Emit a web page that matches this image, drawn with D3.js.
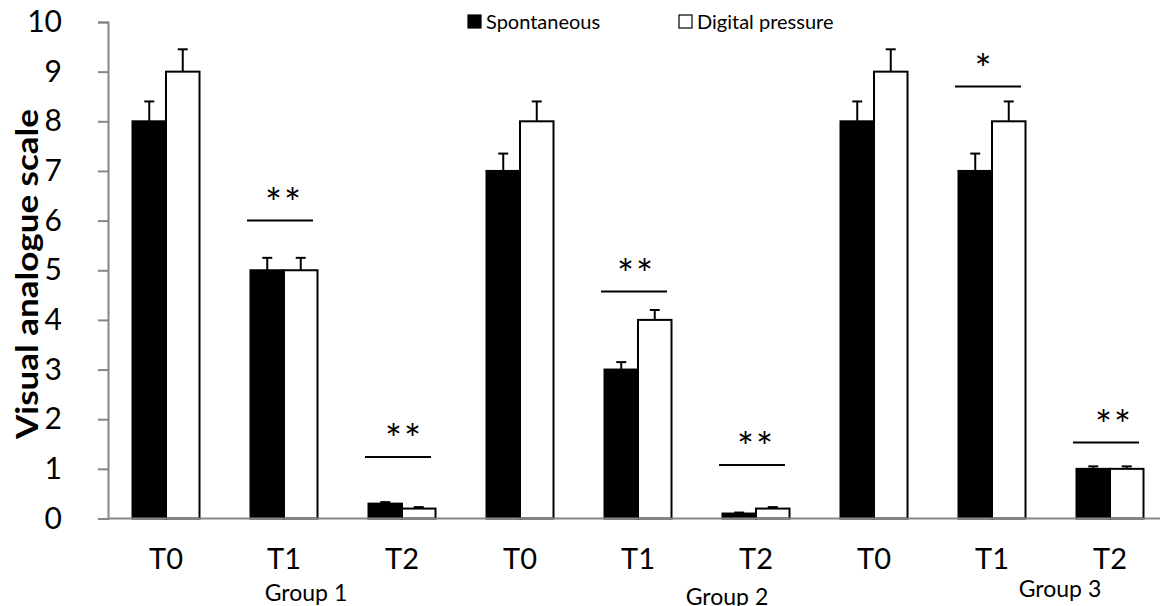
<!DOCTYPE html>
<html>
<head>
<meta charset="utf-8">
<script src="https://cdn.jsdelivr.net/npm/d3@7"></script>
<style>
  body { margin: 0; background: #fff; }
  text { font-family: Lato, "Open Sans", sans-serif; fill: #000; }
</style>
</head>
<body>
<div id="chart"></div>
<script>
// bar chart: VAS per group / time point

const categories = ["T0", "T1", "T2", "T0", "T1", "T2", "T0", "T1", "T2"];
const groupNames = ["Group 1", "Group 2", "Group 3"];
const seriesNames = ["Spontaneous", "Digital pressure"];
const spontaneous = [8, 5, 0.3, 7, 3, 0.1, 8, 7, 1];
const spontaneousErr = [0.4, 0.25, 0.03, 0.35, 0.15, 0.02, 0.4, 0.35, 0.05];
const digital = [9, 5, 0.2, 8, 4, 0.2, 9, 8, 1];
const digitalErr = [0.45, 0.25, 0.03, 0.4, 0.2, 0.03, 0.45, 0.4, 0.05];
const yTicks = [0, 1, 2, 3, 4, 5, 6, 7, 8, 9, 10];

// significance marks: category index, height of line, stars
const sigIndex = [1, 2, 4, 5, 7, 8];
const sigLevel = [6.0, 1.24, 4.57, 1.08, 8.7, 1.53];
const sigMark = ["**", "**", "**", "**", "*", "**"];

const width = 1160, height = 606;

const svg = d3.select("#chart")
    .append("svg")
    .attr("width", width)
    .attr("height", height);

const y = d3.scaleLinear().domain([0, 10]).range([518.5, 22]);

const x0 = d3.scaleBand()
    .domain(d3.range(categories.length))
    .range([107, 107 + 118 * categories.length])
    .padding(0);

const x1 = d3.scaleBand()
    .domain(seriesNames)
    .range([25.5, 92.5]);

const axisColor = "#868686";

// y axis
const yAxis = svg.append("g")
    .attr("transform", "translate(108,0)")
    .call(d3.axisLeft(y).tickValues(yTicks).tickSize(10).tickPadding(36).tickFormat(d3.format("d")));
yAxis.select(".domain").attr("stroke", axisColor).attr("stroke-width", 2);
yAxis.selectAll(".tick line").attr("stroke", axisColor).attr("stroke-width", 2);
yAxis.selectAll(".tick text")
    .attr("font-size", "30px")
    .attr("font-family", "Lato, sans-serif")
    .attr("fill", "#000");

// y title
svg.append("text")
    .attr("transform", "translate(38,274) rotate(-90)")
    .attr("text-anchor", "middle")
    .attr("font-size", "30px")
    .attr("font-weight", "bold")
    .attr("textLength", 330)
    .attr("lengthAdjust", "spacingAndGlyphs")
    .text("Visual analogue scale");

// bars
const rows = categories.map((c, i) => ({
    i: i,
    values: [
        { s: seriesNames[0], v: spontaneous[i], e: spontaneousErr[i] },
        { s: seriesNames[1], v: digital[i], e: digitalErr[i] }
    ]
}));

const cat = svg.append("g")
    .selectAll("g")
    .data(rows)
    .enter().append("g")
    .attr("transform", d => `translate(${x0(d.i)},0)`);

// error bars (drawn first so the bar edge covers the stem base)
const err = cat.selectAll(".err")
    .data(d => d.values)
    .enter().append("g")
    .attr("class", "err");

err.append("line")
    .attr("x1", d => x1(d.s) + x1.bandwidth() / 2)
    .attr("x2", d => x1(d.s) + x1.bandwidth() / 2)
    .attr("y1", d => y(d.v))
    .attr("y2", d => y(d.v + d.e))
    .attr("stroke", "#000")
    .attr("stroke-width", 2);

err.append("line")
    .attr("x1", d => x1(d.s) + x1.bandwidth() / 2 - 5)
    .attr("x2", d => x1(d.s) + x1.bandwidth() / 2 + 5)
    .attr("y1", d => y(d.v + d.e))
    .attr("y2", d => y(d.v + d.e))
    .attr("stroke", "#000")
    .attr("stroke-width", 2);

cat.selectAll("rect")
    .data(d => d.values)
    .enter().append("rect")
    .attr("x", d => x1(d.s))
    .attr("y", d => y(d.v))
    .attr("width", x1.bandwidth())
    .attr("height", d => y(0) - y(d.v))
    .attr("fill", d => d.s === seriesNames[0] ? "#000" : "#fff")
    .attr("stroke", "#000")
    .attr("stroke-width", 2);

// x axis line
svg.append("line")
    .attr("x1", 108)
    .attr("x2", width)
    .attr("y1", y(0))
    .attr("y2", y(0))
    .attr("stroke", axisColor)
    .attr("stroke-width", 2);

// category labels
svg.append("g")
    .selectAll("text")
    .data(categories)
    .enter().append("text")
    .attr("x", (d, i) => x0(i) + x0.bandwidth() / 2)
    .attr("y", 569)
    .attr("text-anchor", "middle")
    .attr("font-size", "29px")
    .text(d => d);

// group labels (hand placed text boxes in the original)
const groupX = [306, 727, 1060];
const groupY = [601, 605, 597];
svg.append("g")
    .selectAll("text")
    .data(groupNames)
    .enter().append("text")
    .attr("x", (d, i) => groupX[i])
    .attr("y", (d, i) => groupY[i])
    .attr("text-anchor", "middle")
    .attr("font-size", "23px")
    .text(d => d);

// significance lines and stars
const starShift = [0, 2, -2, 0, -8, 4];
const sig = svg.append("g")
    .selectAll("g")
    .data(sigIndex)
    .enter().append("g");

sig.append("line")
    .attr("x1", d => x0(d) + x0.bandwidth() / 2 - 37)
    .attr("x2", d => x0(d) + x0.bandwidth() / 2 + 29)
    .attr("y1", (d, k) => y(sigLevel[k]))
    .attr("y2", (d, k) => y(sigLevel[k]))
    .attr("stroke", "#000")
    .attr("stroke-width", 2);

sig.append("text")
    .attr("x", (d, k) => x0(d) + x0.bandwidth() / 2 + starShift[k])
    .attr("y", (d, k) => y(sigLevel[k]) - 3)
    .attr("text-anchor", "middle")
    .attr("font-family", "'Open Sans', sans-serif")
    .attr("font-size", "40px")
    .attr("letter-spacing", "2px")
    .text((d, k) => sigMark[k]);

// legend
const legendX = [468, 679];
const legend = svg.append("g")
    .selectAll("g")
    .data(seriesNames)
    .enter().append("g")
    .attr("transform", (d, i) => `translate(${legendX[i]},0)`);

legend.append("rect")
    .attr("x", 0)
    .attr("y", 15)
    .attr("width", 13)
    .attr("height", 13)
    .attr("fill", (d, i) => i === 0 ? "#000" : "#fff")
    .attr("stroke", "#000")
    .attr("stroke-width", 1.2);

legend.append("text")
    .attr("x", 18)
    .attr("y", 29)
    .attr("font-size", "20px")
    .text(d => d);
</script>
</body>
</html>
